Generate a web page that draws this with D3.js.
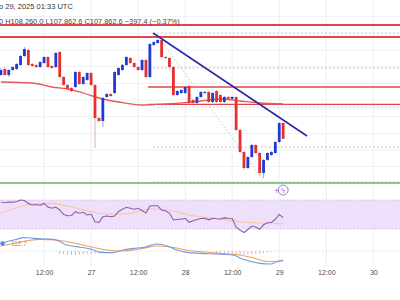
<!DOCTYPE html>
<html><head><meta charset="utf-8">
<script src="https://cdn.jsdelivr.net/npm/d3@7/dist/d3.min.js"></script>
<style>html,body{margin:0;padding:0;background:#fff;overflow:hidden}svg{display:block}</style>
</head><body><svg id="c" width="400" height="300"></svg>
<script>
// ---- DATA ----
const candleHours = [1,2,3,4,5,6,7,8,9,10,11,12,13,14,15,16,17,18,19,20,21,22,23,24,25,26,27,28,29,30,31,32,33,34,35,36,37,38,39,40,41,42,43,44,45,46,47,48,49,50,51,52,53,54,55,56,57,58,59,60,61,62,63,64,65,66,67,68,69,70,71,72,73];
const opens  = [109460,109610,109460,109585,109610,109710,109935,110085,109735,109710,109660,109760,109910,109685,109660,110035,109410,109210,109135,109160,109535,109235,109335,109510,109210,108385,108310,108910,108985,109010,109460,109585,109710,109885,109760,109660,109585,109835,109410,110210,110260,110335,109910,109885,109660,108960,109010,109010,109185,108835,108760,108910,109010,109035,108785,109060,108960,108785,108910,108860,108910,108085,107535,107135,107410,107710,107510,107010,107335,107460,107510,107785,108260];
const highs  = [109635,109660,109610,109685,109760,109960,110160,110110,109760,109735,109810,109935,109935,109710,110035,110060,109435,109235,109160,109560,109560,109435,109535,109535,109235,108410,108910,109010,109010,109560,109660,109735,109935,109910,109785,109685,109860,109860,110260,110310,110360,110410,109935,109910,109685,109085,109110,109185,109210,108860,108935,109060,109060,109060,109035,109085,108985,108935,108935,108935,108935,108110,107560,107435,107735,107735,107535,107360,107535,107560,107810,108285,108260];
const lows   = [109435,109435,109410,109560,109585,109685,109910,109685,109660,109635,109635,109735,109635,109610,109635,109385,109185,109085,109035,109135,109210,109210,109310,109185,107635,108285,108160,108885,108910,108985,109435,109560,109685,109735,109635,109560,109560,109385,109385,110185,110235,109885,109860,109635,108935,108935,108985,108985,108735,108735,108735,108885,108985,108760,108760,108760,108760,108760,108835,108835,108060,107510,107085,107110,107385,107485,106985,106885,107310,107435,107485,107760,107862.6];
const closes = [109585,109460,109585,109660,109735,109935,110110,109710,109685,109660,109785,109910,109660,109635,110010,109410,109210,109110,109060,109535,109235,109410,109510,109210,108385,108310,108885,108985,108935,109535,109635,109710,109910,109760,109660,109585,109835,109410,110235,110285,110335,109910,109885,109660,108960,109060,109085,109160,108760,108760,108910,109035,109035,108785,109010,108785,108785,108910,108860,108910,108085,107535,107135,107410,107710,107510,107010,107335,107510,107535,107785,108260,107862.6];

const maHours  = [1,9,14,18,22,26,31,37,43,52,57,62,67,73];
const maValues = [109285,109260,109160,109110,109010,108885,108785,108710,108735,108810,108860,108810,108760,108735];

const rsiValues = [67.2,66.3,67.2,66.8,67.9,70,69.3,65.2,63.1,63.8,62.4,65.2,60.3,58.6,60.3,56.2,50,48.3,48.6,53.9,51.7,53,49.3,50.3,40.1,39,46.8,47.9,47,47.9,54.1,57.2,59.9,58.6,57.3,58.6,55.5,52,61.7,62.1,62,56.2,54.8,52,42.4,43.4,43.5,44.8,39.2,41.5,43.2,44.5,44.8,42.7,44.8,44.1,43.8,45.3,44.8,44.5,32.4,28.6,25.2,29.3,34.1,32.8,29.6,35.8,38.7,39,43.4,50,45.6];
const rsiMaHours  = [1,5,9,13.5,18,22,26,30.5,34.5,39,43,46,49,53.5,57.5,62,66,70,73];
const rsiMaValues = [52.1,59,64.5,65.4,61.7,56.2,51.7,50.3,52.5,57.6,56.9,53.4,49.3,45.6,43.4,40.1,38.7,37.9,36.9];

const macdHours  = [1,2.5,5,6.7,9.3,11.8,14.4,16.1,17.8,20.3,22.9,24.6,26.3,29.6,32.1,34.7,37.2,40.8,43.4,45.9,48.5,51.8,56,60.2,62.8,67.1,69.7,71.4,73];
const macdValues = [130,155,190,215,205,195,190,155,105,80,55,30,-5,-10,30,55,65,120,90,30,-5,-20,-30,-45,-110,-170,-180,-145,-120];
const signalHours  = [1,5,8,11,15,19,23,28,32,37,41,45,49,53,57,61,65,69,73];
const signalValues = [90,135,172,190,180,142,90,30,15,52,90,68,22,0,-20,-38,-82,-142,-135];
const histHours  = [16,17,18,19,20,21,22,23,24,25,26,27,56,57,58,59,60,61,62,63,64,65,66,67,68,69,70];
const histValues = [-45,-50,-55,-60,-60,-55,-50,-45,-40,-35,-30,-20,-20,-25,-30,-35,-45,-55,-60,-60,-55,-50,-45,-40,-30,-20,-10];

const resistanceFull = [110710, 110410];
const levelsRight    = [109160, 108725];
const supportLevel   = 106760;
const dottedLevels   = [110510, 109635, 108660, 107660, 106785];
const trendLine      = [[39.8,110510],[79.1,107935]];
const dottedDiagonal = [[42.1,110285],[67.9,106835]];
const gridPrices = [110920,110500,110085,109670,109250,108835,108420,108000,107585,107170];
const tickHours  = [12,24,36,48,60,72,84,96];
const tickLabels = ["12:00","27","12:00","28","12:00","29","12:00","30"];
const headerLine1 = "o 29, 2025 01:33 UTC";
const headerLine2 = "0 H108,260.0 L107,862.6 C107,862.6 \u2212397.4 (\u22120.37%)";
const signalLabel = "112.7";

// ---- SCALES ----
const svg = d3.select("#c");
const x = d3.scaleLinear().domain([0,102]).range([-3,396.84]);
const y = d3.scaleLinear().domain([106760,110710]).range([183,25]);
const rsiY = d3.scaleLinear().domain([30,70]).range([229,200]);
const macdY = d3.scaleLinear().domain([0,150]).range([252,242]);
const RED="#e5302f", BLUE="#1f3ad6";

svg.append("rect").attr("width",400).attr("height",300).attr("fill","#fff");

// grid
svg.append("g").selectAll("line").data(tickHours).join("line")
  .attr("x1",d=>x(d)).attr("x2",d=>x(d)).attr("y1",0).attr("y2",266)
  .attr("stroke","#eceef2").attr("stroke-width",1);
svg.append("g").selectAll("line").data(gridPrices).join("line")
  .attr("x1",0).attr("x2",400).attr("y1",d=>y(d)).attr("y2",d=>y(d))
  .attr("stroke","#f0f1f4").attr("stroke-width",1);

// RSI band
svg.append("rect").attr("x",0).attr("width",400).attr("y",rsiY(70)).attr("height",rsiY(30)-rsiY(70)).attr("fill","#eee0fb");
[70,30].forEach(v=>svg.append("line").attr("x1",0).attr("x2",400).attr("y1",rsiY(v)).attr("y2",rsiY(v))
  .attr("stroke","#c8b6dc").attr("stroke-dasharray","1.5,2").attr("stroke-width",0.8));

// levels
const xr = x(38.5), xd = x(39.8);
svg.append("g").selectAll("line").data(dottedLevels).join("line")
  .attr("x1",xd).attr("x2",400).attr("y1",d=>y(d)).attr("y2",d=>y(d))
  .attr("stroke",(d,i)=>i===0?"#a9c4e6":(i===2?"#c8c8c8":"#eaa0a0")).attr("stroke-width",1).attr("stroke-dasharray","1.5,2.5");
svg.append("line").datum(dottedDiagonal)
  .attr("x1",d=>x(d[0][0])).attr("y1",d=>y(d[0][1])).attr("x2",d=>x(d[1][0])).attr("y2",d=>y(d[1][1]))
  .attr("stroke","#bdbdbd").attr("stroke-width",0.9).attr("stroke-dasharray","1.5,2");
svg.append("g").selectAll("line").data(resistanceFull).join("line")
  .attr("x1",0).attr("x2",400).attr("y1",d=>y(d)).attr("y2",d=>y(d))
  .attr("stroke","#e04848").attr("stroke-width",1.8);
svg.append("g").selectAll("line").data(levelsRight).join("line")
  .attr("x1",xr).attr("x2",400).attr("y1",d=>y(d)).attr("y2",d=>y(d))
  .attr("stroke","#e04848").attr("stroke-width",1.4);
svg.append("line").attr("x1",0).attr("x2",400).attr("y1",y(supportLevel)).attr("y2",y(supportLevel))
  .attr("stroke","#8cc68c").attr("stroke-width",2);

// MA curve
svg.append("path").datum(maHours.map((h,i)=>[h,maValues[i]]))
  .attr("d",d3.line().x(d=>x(d[0])).y(d=>y(d[1])).curve(d3.curveMonotoneX))
  .attr("fill","none").attr("stroke","#e05a5a").attr("stroke-width",1.3);

// candles
const cd = candleHours.map((h,i)=>({h,o:opens[i],hi:highs[i],lo:lows[i],c:closes[i]}));
const cg = svg.append("g");
cg.selectAll("line").data(cd).join("line")
  .attr("x1",d=>x(d.h)).attr("x2",d=>x(d.h)).attr("y1",d=>y(d.hi)).attr("y2",d=>y(d.lo))
  .attr("stroke",d=>d.c>=d.o?"#8a94d8":"#c8a0a0").attr("stroke-width",0.8);
cg.selectAll("rect").data(cd).join("rect")
  .attr("x",d=>x(d.h)-1.4).attr("width",2.8)
  .attr("y",d=>y(Math.max(d.o,d.c))).attr("height",d=>Math.max(1,Math.abs(y(d.o)-y(d.c))))
  .attr("fill",d=>d.c>=d.o?BLUE:RED);

// trend line
svg.append("line").datum(trendLine)
  .attr("x1",d=>x(d[0][0])).attr("y1",d=>y(d[0][1])).attr("x2",d=>x(d[1][0])).attr("y2",d=>y(d[1][1]))
  .attr("stroke","#2a2aa8").attr("stroke-width",1.6);

// icon
const ix = x(73), iy = 190;
svg.append("circle").attr("cx",ix).attr("cy",iy).attr("r",5).attr("fill","#fff").attr("stroke","#a77bd6").attr("stroke-width",1);
svg.append("text").attr("x",ix).attr("y",iy+2.6).attr("text-anchor","middle").attr("font-size",7).attr("fill","#9a64d0").attr("font-family","DejaVu Sans").text("\u03DF");
svg.append("text").attr("x",ix-6.5).attr("y",iy+3).attr("text-anchor","middle").attr("font-size",7).attr("fill","#9a64d0").attr("font-family","DejaVu Sans").text("+");

// RSI
svg.append("path").datum(rsiMaHours.map((h,i)=>[h,rsiMaValues[i]]))
  .attr("d",d3.line().x(d=>x(d[0])).y(d=>rsiY(d[1])).curve(d3.curveMonotoneX))
  .attr("fill","none").attr("stroke","#f3c79f").attr("stroke-width",1.1);
svg.append("path").datum(candleHours.map((h,i)=>[h,rsiValues[i]]))
  .attr("d",d3.line().x(d=>x(d[0])).y(d=>rsiY(d[1])))
  .attr("fill","none").attr("stroke","#8f5ea8").attr("stroke-width",1.1);

// MACD
svg.append("line").attr("x1",0).attr("x2",400).attr("y1",251).attr("y2",251)
  .attr("stroke","#d6d6d6").attr("stroke-dasharray","1.5,2").attr("stroke-width",0.8);
svg.append("g").selectAll("line").data(histHours.map((h,i)=>[h,histValues[i]])).join("line")
  .attr("x1",d=>x(d[0])).attr("x2",d=>x(d[0])).attr("y1",macdY(0)-1).attr("y2",d=>macdY(d[1])-1)
  .attr("stroke","#d9a5a5").attr("stroke-width",0.9);
svg.append("path").datum(signalHours.map((h,i)=>[h,signalValues[i]]))
  .attr("d",d3.line().x(d=>x(d[0])).y(d=>macdY(d[1])).curve(d3.curveMonotoneX))
  .attr("fill","none").attr("stroke","#f0a060").attr("stroke-width",1.1);
svg.append("path").datum(macdHours.map((h,i)=>[h,macdValues[i]]))
  .attr("d",d3.line().x(d=>x(d[0])).y(d=>macdY(d[1])).curve(d3.curveMonotoneX))
  .attr("fill","none").attr("stroke","#6f9be0").attr("stroke-width",1.1);
svg.append("circle").attr("cx",2.5).attr("cy",243.5).attr("r",2.3).attr("fill","#5b8ee6");
svg.append("text").attr("x",11).attr("y",246).attr("font-size",6.5).attr("fill","#e8823a")
  .attr("font-family","Liberation Sans, Arial, sans-serif").text(signalLabel);

// x axis
const ax = svg.append("g").attr("transform","translate(0,267)")
  .call(d3.axisBottom(x).tickValues(tickHours).tickFormat((d,i)=>tickLabels[i]).tickSize(0));
ax.select(".domain").remove();
ax.selectAll("text").attr("font-size",7).attr("fill","#4a4a4a").attr("font-family","Liberation Sans, Arial, sans-serif");

// header
svg.append("text").attr("x",-1).attr("y",9).attr("font-size",7.5).attr("fill","#333")
  .attr("font-family","Liberation Sans, Arial, sans-serif").text(headerLine1);
svg.append("text").attr("x",-1).attr("y",23.5).attr("font-size",7.4).attr("fill","#444")
  .attr("font-family","Liberation Sans, Arial, sans-serif").text(headerLine2);
</script></body></html>
